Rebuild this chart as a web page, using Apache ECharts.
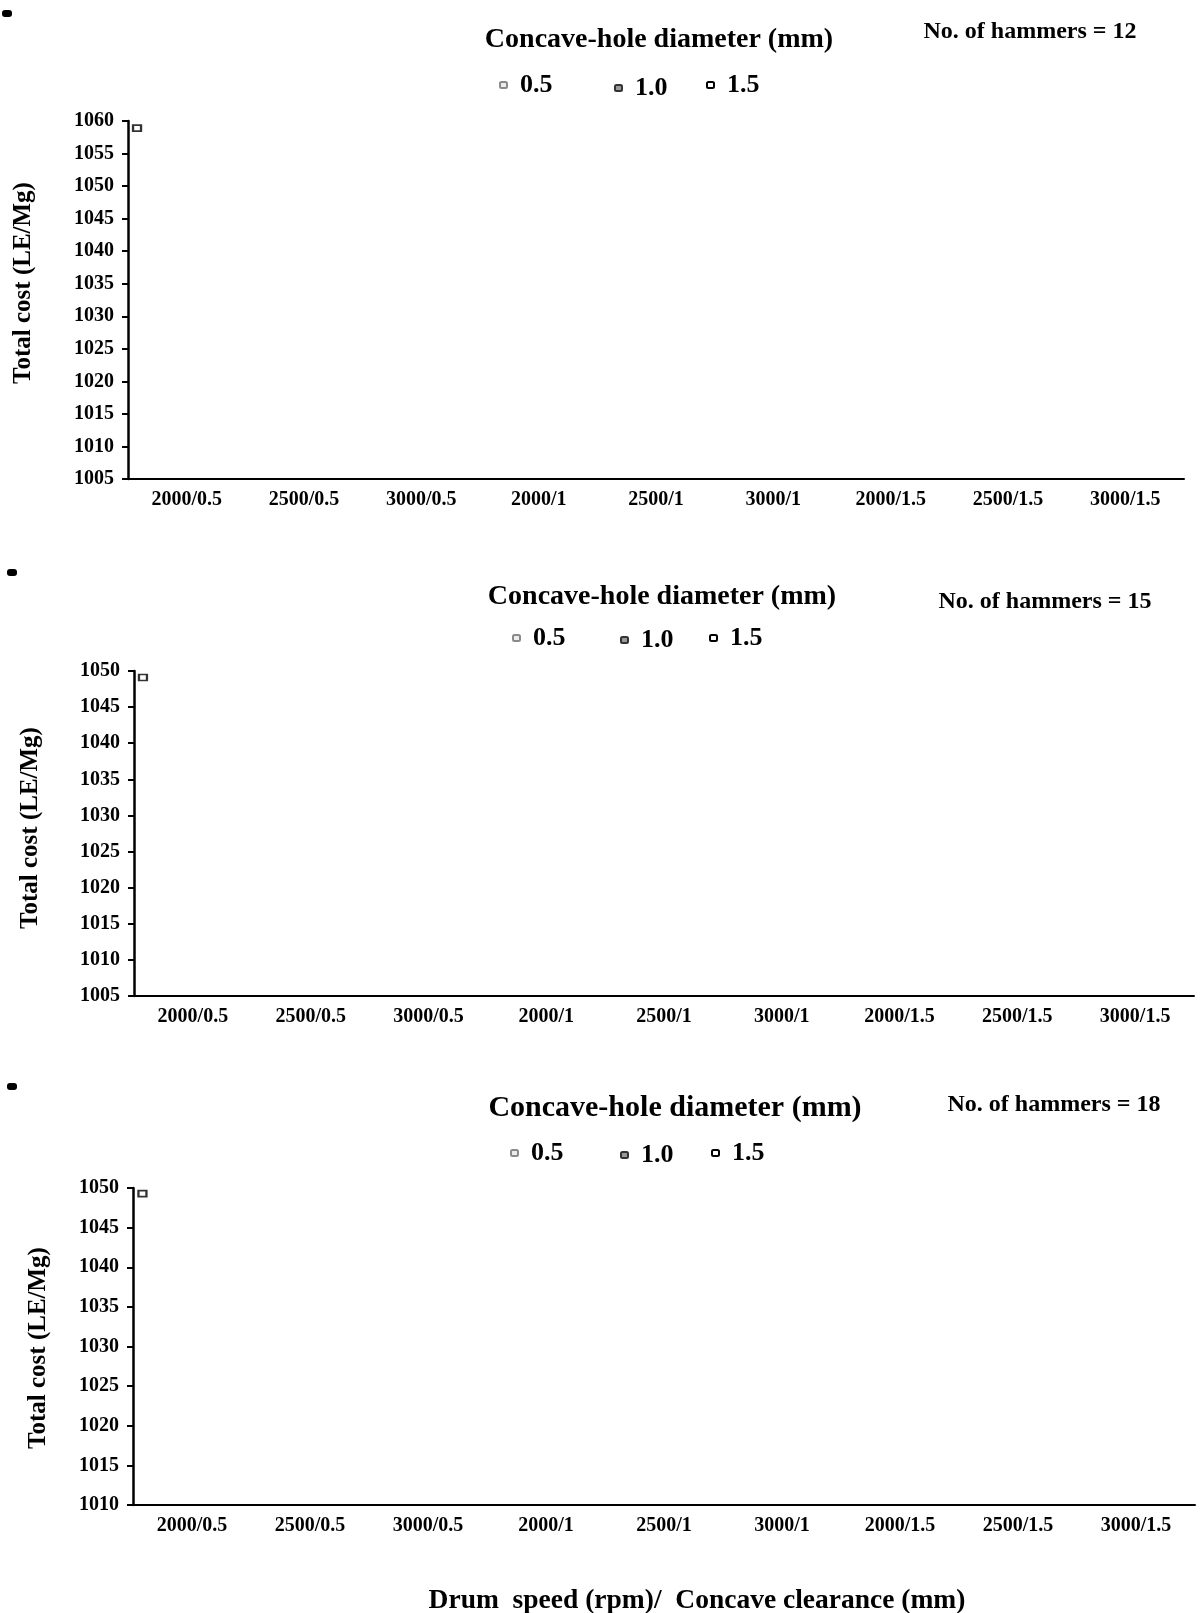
<!DOCTYPE html>
<html>
<head>
    <meta charset="utf-8">
    <title>Total cost vs drum speed / concave clearance</title>
    <script src="https://cdn.jsdelivr.net/npm/echarts@6/dist/echarts.min.js"></script>
    <style>
        html, body { margin: 0; padding: 0; background: #fff; }
        #chart { width: 1203px; height: 1613px; }
    </style>
</head>
<body>
<div id="chart"></div>
<script>
    // x categories: drum speed (rpm) / concave clearance (mm)
    var categories = ['2000/0.5', '2500/0.5', '3000/0.5', '2000/1', '2500/1', '3000/1', '2000/1.5', '2500/1.5', '3000/1.5'];
    // legend: concave-hole diameter (mm)
    var diameters = ['0.5', '1.0', '1.5'];
    var hammers = [12, 15, 18];

    // y axis ranges per panel
    var yMin = [1005, 1005, 1010];
    var yMax = [1060, 1050, 1050];
    var yStep = 5;

    // no bar is visible in the reference, so the bar series stay empty
    var costValues = [null, null, null, null, null, null, null, null, null];

    // the small hollow marker next to the top of each y axis
    var markerX = [0.077, 0.076, 0.08];
    var markerY = [1058.9, 1049.1, 1049.3];

    // ---- layout (px) ----
    var gridLeft = [128, 134, 133];
    var gridTop = [121, 671, 1188];
    var gridWidth = [1056, 1060, 1062];
    var gridHeight = [358, 325, 317];

    var font = '"Liberation Serif", "Times New Roman", serif';
    var barStyles = {
        '0.5': { color: '#ececec', borderColor: '#8a8a8a', borderWidth: 1 },
        '1.0': { color: '#9a9a9a', borderColor: '#333', borderWidth: 1 },
        '1.5': { color: '#fff', borderColor: '#000', borderWidth: 2 }
    };

    var titlePos = [[659, 40, 28], [662, 597, 28], [675, 1108, 30]];
    var hammerPos = [[1030, 32], [1045, 602], [1054, 1105]];
    var legendLeft = [[494, 609, 701], [507, 615, 704], [505, 615, 706]];
    var legendTop = [[67, 70, 67], [620, 622, 620], [1135, 1137, 1135]];
    var yTitlePos = [[24, 283], [31, 828], [39, 1348]];
    var blobPos = [[7, 14], [12, 573], [12, 1087]];

    var grids = [], xAxes = [], yAxes = [], series = [], legends = [], graphics = [];

    for (var p = 0; p < 3; p++) {
        grids.push({ left: gridLeft[p], top: gridTop[p], width: gridWidth[p], height: gridHeight[p] });

        xAxes.push({
            type: 'category', gridIndex: p, data: categories,
            axisLine: { lineStyle: { color: '#000', width: 2 } },
            axisTick: { length: 5, lineStyle: { color: '#000', width: 2 } },
            axisLabel: { color: '#000', fontFamily: font, fontWeight: 'bold', fontSize: 20, margin: 11 }
        });
        xAxes.push({ type: 'value', gridIndex: p, min: 0, max: 9, show: false });

        yAxes.push({
            type: 'value', gridIndex: p, min: yMin[p], max: yMax[p], interval: yStep,
            splitLine: { show: false },
            axisLine: { show: true, lineStyle: { color: '#000', width: 2.5 } },
            axisTick: { show: true, length: 6, lineStyle: { color: '#000', width: 2 } },
            axisLabel: { color: '#000', fontFamily: font, fontWeight: 'bold', fontSize: 20, margin: 14,
                formatter: function (v) { return String(v); } }
        });

        diameters.forEach(function (d, k) {
            series.push({
                name: d, type: 'bar', xAxisIndex: 2 * p, yAxisIndex: p,
                data: costValues, itemStyle: barStyles[d]
            });
            legends.push({
                data: [d], left: legendLeft[p][k], top: legendTop[p][k],
                itemWidth: 7, itemHeight: 6, selectedMode: false,
                textStyle: { color: '#000', fontFamily: font, fontWeight: 'bold', fontSize: 26, padding: [0, 0, 0, 8] }
            });
        });

        series.push({
            type: 'scatter', xAxisIndex: 2 * p + 1, yAxisIndex: p,
            data: [[markerX[p], markerY[p]]],
            symbol: 'rect', symbolSize: [8, 6], silent: true,
            itemStyle: { color: '#fff', borderColor: '#000', borderWidth: 2 }
        });

        graphics.push({
            type: 'text', x: titlePos[p][0], y: titlePos[p][1],
            style: { text: 'Concave-hole diameter (mm)', align: 'center', verticalAlign: 'middle',
                fill: '#000', font: 'bold ' + titlePos[p][2] + 'px ' + font }
        });
        graphics.push({
            type: 'text', x: hammerPos[p][0], y: hammerPos[p][1],
            style: { text: 'No. of hammers = ' + hammers[p], align: 'center', verticalAlign: 'middle',
                fill: '#000', font: 'bold 24px ' + font }
        });
        graphics.push({
            type: 'text', x: yTitlePos[p][0], y: yTitlePos[p][1], rotation: Math.PI / 2,
            style: { text: 'Total cost (LE/Mg)', align: 'center', verticalAlign: 'middle',
                fill: '#000', font: 'bold 25px ' + font }
        });
        graphics.push({
            type: 'rect', shape: { x: blobPos[p][0] - 5, y: blobPos[p][1] - 4, width: 10, height: 7, r: 3 },
            style: { fill: '#000' }
        });
    }

    graphics.push({
        type: 'text', x: 697, y: 1601,
        style: { text: 'Drum  speed (rpm)/  Concave clearance (mm)', align: 'center', verticalAlign: 'middle',
            fill: '#000', font: 'bold 27.5px ' + font }
    });

    var chart = echarts.init(document.getElementById('chart'));
    chart.setOption({
        animation: false,
        backgroundColor: '#fff',
        grid: grids,
        xAxis: xAxes,
        yAxis: yAxes,
        legend: legends,
        series: series,
        graphic: graphics
    });
</script>
</body>
</html>
